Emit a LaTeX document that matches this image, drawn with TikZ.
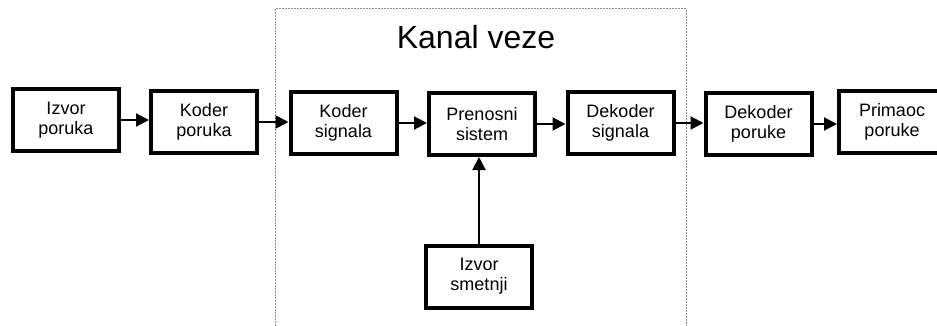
\documentclass[tikz,border=0pt]{standalone}
\usepackage{fontspec}
\setmainfont{Liberation Sans}
\usetikzlibrary{arrows.meta}
\begin{document}
\begin{tikzpicture}[x=1pt,y=-1pt,
  blk/.style={draw=black, line width=4pt, minimum width=106pt, minimum height=62pt,
    inner sep=0pt, align=center, font=\fontsize{18}{20}\selectfont},
  conn/.style={line width=2pt, -{Triangle[length=13pt,width=13pt]}},
  frame/.style={draw=black!45, line width=1pt, dash pattern=on 2pt off 1pt}]
  \useasboundingbox (0,0) rectangle (937,326);

  % channel frame, open at the bottom
  \draw[frame] (275,326) -- (275,9) -- (686,9) -- (686,326);
  \node[anchor=base, font=\fontsize{32}{36}\selectfont] (title) at (476,49) {Kanal veze};

  % blocks of the chain
  \node[blk] (src)  at (66,120)    {Izvor\\poruka};
  \node[blk] (menc) at (204,122)   {Koder\\poruka};
  \node[blk] (senc) at (343.5,123) {Koder\\signala};
  \node[blk] (sys)  at (482,124)   {Prenosni\\sistem};
  \node[blk] (sdec) at (620.5,123) {Dekoder\\signala};
  \node[blk] (mdec) at (758.5,124) {Dekoder\\poruke};
  \node[blk] (dst)  at (892,122)   {Primaoc\\poruke};
  \node[blk] (noise) at (479,276.5) {Izvor\\smetnji};

  % signal flow
  \draw[conn] (src.east)  -- (src.east -| menc.west);
  \draw[conn] (menc.east) -- (menc.east -| senc.west);
  \draw[conn] (senc.east) -- (senc.east -| sys.west);
  \draw[conn] (sys.east)  -- (sys.east -| sdec.west);
  \draw[conn] (sdec.east) -- (sdec.east -| mdec.west);
  \draw[conn] (mdec.east) -- (mdec.east -| dst.west);
  \draw[conn] (noise.north) -- (noise.north |- sys.south);
\end{tikzpicture}
\end{document}
